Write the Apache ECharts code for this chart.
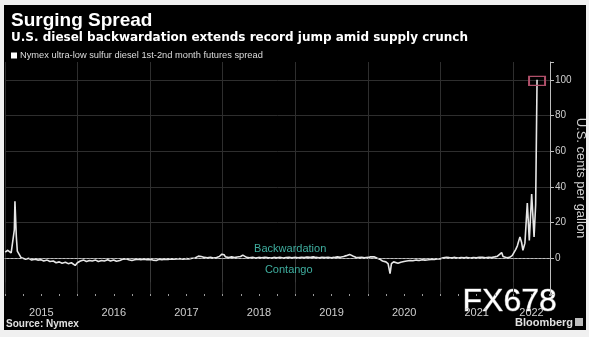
<!DOCTYPE html>
<html>
<head>
<meta charset="utf-8">
<script src="https://cdn.jsdelivr.net/npm/echarts@6/dist/echarts.min.js"></script>
<style>
html,body{margin:0;padding:0;background:#f0f0f0;width:589px;height:337px;overflow:hidden;}
#chart{position:absolute;left:4px;top:5px;width:582px;height:325px;}
</style>
</head>
<body>
<div id="chart"></div>
<script>
// ---- data ----
const dates = [
 '2015-01-02','2015-01-15','2015-02-01','2015-02-10','2015-02-17','2015-02-20','2015-02-24','2015-02-27','2015-03-04','2015-03-12','2015-03-22',
 '2015-04-01','2015-04-15','2015-05-01','2015-05-15','2015-06-01','2015-06-15','2015-07-01','2015-07-15','2015-08-01','2015-08-15',
 '2015-09-01','2015-09-15','2015-10-01','2015-10-15','2015-11-01','2015-11-15','2015-12-01','2015-12-10','2015-12-20','2015-12-31',
 '2016-01-15','2016-02-01','2016-02-15','2016-03-01','2016-03-15','2016-04-01','2016-04-15','2016-05-01','2016-05-15','2016-06-01','2016-06-15',
 '2016-07-01','2016-07-15','2016-08-01','2016-08-15','2016-09-01','2016-09-15','2016-10-01','2016-10-15','2016-11-01','2016-11-15','2016-12-01','2016-12-15',
 '2017-01-01','2017-01-15','2017-02-01','2017-02-15','2017-03-01','2017-03-15','2017-04-01','2017-04-15','2017-05-01','2017-05-15','2017-06-01','2017-06-15',
 '2017-07-01','2017-07-15','2017-08-01','2017-08-15','2017-09-01','2017-09-08','2017-09-15','2017-10-01','2017-10-15','2017-11-01','2017-11-15','2017-12-01','2017-12-15','2017-12-28',
 '2018-01-08','2018-01-15','2018-02-01','2018-02-15','2018-03-01','2018-03-15','2018-04-01','2018-04-12','2018-04-20','2018-05-01','2018-05-15','2018-06-01','2018-06-15',
 '2018-07-01','2018-07-15','2018-08-01','2018-08-15','2018-09-01','2018-09-15','2018-10-01','2018-10-15','2018-11-01','2018-11-15','2018-12-01','2018-12-15',
 '2019-01-01','2019-01-15','2019-02-01','2019-02-15','2019-03-01','2019-03-15','2019-04-01','2019-04-15','2019-05-01','2019-05-15','2019-06-01','2019-06-15',
 '2019-07-01','2019-07-15','2019-08-01','2019-08-15','2019-09-01','2019-09-15','2019-10-01','2019-10-08','2019-10-20','2019-11-01','2019-11-15','2019-12-01','2019-12-15',
 '2020-01-01','2020-01-15','2020-02-01','2020-02-15','2020-03-01','2020-03-15','2020-04-01','2020-04-12','2020-04-22','2020-04-29','2020-05-10','2020-05-20','2020-06-01','2020-06-15',
 '2020-07-01','2020-07-15','2020-08-01','2020-08-15','2020-09-01','2020-09-15','2020-10-01','2020-10-15','2020-11-01','2020-11-15','2020-12-01','2020-12-15',
 '2021-01-01','2021-01-15','2021-01-25','2021-02-01','2021-02-15','2021-03-01','2021-03-15','2021-04-01','2021-04-15','2021-05-01','2021-05-15','2021-06-01','2021-06-15',
 '2021-07-01','2021-07-15','2021-08-01','2021-08-15','2021-09-01','2021-09-15','2021-10-01','2021-10-15','2021-11-05','2021-11-12','2021-11-20','2021-12-01','2021-12-15','2021-12-28',
 '2022-01-05','2022-01-15','2022-01-23','2022-01-28','2022-02-05','2022-02-13','2022-02-20','2022-03-02','2022-03-14','2022-03-24','2022-04-05','2022-04-17','2022-04-25','2022-05-02'
];
const spread = [
 3.5,4.5,3,4,16,32,31,12,4,3,0.5,
 0,-0.5,0,-1,-0.5,-1,-0.8,-1.5,-1,-1.8,
 -1.5,-2.5,-2,-2.8,-2.2,-3,-2.5,-3.5,-4,-2.5,
 -1.5,-1,-1.8,-1.2,-1.5,-1,-1.8,-1.2,-1.5,-0.8,-1.5,
 -1,-1.7,-1.2,-0.5,-0.3,-0.8,-1.2,-0.8,-0.5,-0.8,-0.5,-0.8,
 -0.6,-1,-1.2,-0.5,-0.8,-0.5,-0.6,-0.3,-0.5,-0.4,-0.2,-0.5,
 -0.2,-0.3,0,0.2,1.2,2,1,0.5,0.3,0.6,0.2,0.5,1,2.3,
 2,0.8,0.5,0.8,0.4,0.7,1,1.8,1,0.5,0.3,0.6,0.2,
 0.5,0.3,0.6,0.4,0.2,0.5,0.3,0.6,0.2,0.4,0.5,0.3,
 0.5,0.3,0.6,0.4,0.7,0.5,0.8,0.5,0.3,0.6,0.4,0.6,
 0.3,0.5,0.8,0.6,1,1.5,2.2,2.2,1.2,0.6,0.4,0.5,0.3,
 0.5,0.8,0.9,0.2,-0.5,-1.5,-2,-3,-8.6,-3,-2,-2.2,-2.8,-2.2,
 -1.8,-1.5,-1.2,-1.4,-1,-1.2,-0.8,-1,-0.8,-0.6,-0.7,-0.4,
 -0.3,0.3,0.8,0.6,0.4,0.3,0.5,0.2,0.4,0.3,0.5,0.2,0.4,
 0.3,0.5,0.6,0.3,0.5,0.4,0.8,1.2,3.2,1,0.5,0.3,0.5,1.5,
 1.5,5,7,9,12,9,4.5,8.5,31,10,36,12,30,100
];
const yearTicks = [2015,2016,2017,2018,2019,2020,2021,2022];
const yTickLabels = [0,20,40,60,80,100];
const seriesName = 'Nymex ultra-low sulfur diesel 1st-2nd month futures spread';

// ---- helpers ----
function toYear(s){
  const d = new Date(s + 'T00:00:00Z');
  const y = d.getUTCFullYear();
  const a = Date.UTC(y,0,1), b = Date.UTC(y+1,0,1);
  return y + (d.getTime() - a) / (b - a);
}
const xMin = 2015, xMax = 2022.51;
const labelPos = yearTicks.map(y => y < 2022 ? y + 0.5 : (y + xMax) / 2);
const points = dates.map((d, i) => [toYear(d), spread[i]]);
let peakIdx = 0; spread.forEach((v,i)=>{ if (v > spread[peakIdx]) peakIdx = i; });

const chart = echarts.init(document.getElementById('chart'));
chart.setOption({
  backgroundColor: '#000',
  animation: false,
  textStyle: {fontFamily: 'Liberation Sans'},
  title: [
    {text: 'Surging Spread', left: 2, top: 1,
     textStyle: {color: '#fff', fontSize: 19, fontWeight: 'bold', fontFamily: 'Liberation Sans'}},
    {text: 'U.S. diesel backwardation extends record jump amid supply crunch', left: 2, top: 22,
     textStyle: {color: '#fff', fontSize: 12, fontWeight: 'bold', fontFamily: 'DejaVu Sans'}}
  ],
  legend: {
    left: 2, top: 41, icon: 'rect', itemWidth: 6, itemHeight: 6, itemGap: 3,
    textStyle: {color: '#ddd', fontSize: 9.3, padding: [0,0,0,-2]},
    data: [seriesName]
  },
  grid: {left: 1, right: 36, top: 57, bottom: 36, containLabel: false, outerBoundsMode: 'none'},
  xAxis: [
    {type: 'value', min: xMin, max: xMax, interval: 1, position: 'bottom', offset: 0,
     axisLine: {show: true, lineStyle: {color: '#bdbdbd', width: 1}},
     axisTick: {show: true, customValues: yearTicks, length: 24, lineStyle: {color: '#3a3a3a'}},
     axisLabel: {show: true, customValues: labelPos, color: '#cfcfcf', fontSize: 11, margin: 13,
                 formatter: v => String(Math.floor(v + 1e-6))},
     splitLine: {show: true, lineStyle: {color: '#2e2e2e', width: 1}}},
    {type: 'value', min: xMin, max: xMax, interval: 0.25, position: 'bottom', offset: 0,
     axisLine: {show: false}, axisLabel: {show: false}, splitLine: {show: false},
     axisTick: {show: true, length: 2, lineStyle: {color: '#9a9a9a'}}}
  ],
  yAxis: {
    type: 'value', position: 'right', min: -20, max: 110, interval: 20,
    axisLine: {show: true, lineStyle: {color: '#bdbdbd'}},
    axisTick: {show: true, length: 4, lineStyle: {color: '#bdbdbd'}},
    axisLabel: {color: '#cfcfcf', fontSize: 10, margin: 5,
                formatter: v => yTickLabels.indexOf(v) >= 0 ? String(v) : ''},
    splitLine: {show: true, showMinLine: false, showMaxLine: false, lineStyle: {color: '#2e2e2e'}},
    name: 'U.S. cents per gallon', nameLocation: 'middle', nameRotate: -90, nameGap: 24,
    nameMoveOverlap: false,
    nameTextStyle: {color: '#cfcfcf', fontSize: 13}
  },
  series: [{
    name: seriesName, type: 'line', data: points, xAxisIndex: 0,
    showSymbol: false, symbol: 'none',
    lineStyle: {color: '#e6e6e6', width: 1.6}, itemStyle: {color: '#ffffff'},
    markLine: {silent: true, symbol: 'none', label: {show: false},
      lineStyle: {color: '#9a9a9a', type: [2, 2], width: 1},
      data: [{yAxis: 0}]},
    markPoint: {silent: true, data: [
      {coord: points[peakIdx], symbol: 'rect', symbolSize: [16, 9], symbolOffset: [0, 1],
       itemStyle: {color: 'rgba(0,0,0,0)', borderColor: '#b0506a', borderWidth: 1.5}, label: {show: false}},
      {coord: [2018.93, 5], symbol: 'rect', symbolSize: 0,
       label: {show: true, formatter: 'Backwardation', color: '#3fae9f', fontSize: 11}},
      {coord: [2018.91, -6.7], symbol: 'rect', symbolSize: 0,
       label: {show: true, formatter: 'Contango', color: '#3fae9f', fontSize: 11}}
    ]}
  }],
  graphic: [
    {type: 'text', left: 2, top: 314, style: {text: 'Source: Nymex', fill: '#e0e0e0', font: 'bold 10px "Liberation Sans"'}},
    {type: 'text', left: 511, top: 312, style: {text: 'Bloomberg', fill: '#e0e0e0', font: 'bold 11px "Liberation Sans"'}},
    {type: 'rect', left: 571, top: 313, shape: {width: 8, height: 8}, style: {fill: '#bdbdbd'}},
    {type: 'text', left: 458, top: 281, style: {text: 'FX678', fill: '#ffffff', stroke: '#666', lineWidth: 1, font: '32px "Liberation Sans"'}}
  ]
});
</script>
</body>
</html>
